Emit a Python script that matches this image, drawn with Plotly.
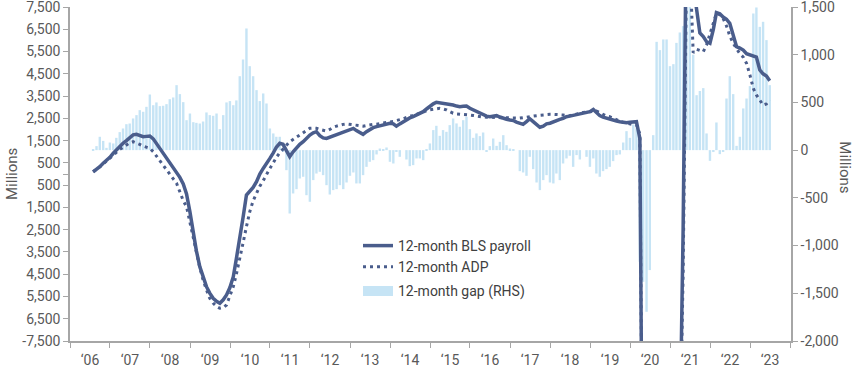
import pandas as pd
import plotly.graph_objects as go

# ---------------- data (monthly, Jul 2006 - Jun 2023) ----------------
start_month = "2006-07"

bls_2006 = [100, 200, 330, 480, 600, 750]
bls_2007 = [930, 1080, 1230, 1378, 1500, 1650, 1760, 1780, 1720, 1676, 1690, 1706]
bls_2008 = [1580, 1378, 1150, 950, 705, 500, 300, 103, -150, -450, -900, -1700]
bls_2009 = [-2663, -3450, -4162, -4650, -5060, -5350, -5582, -5720, -5806, -5650, -5433, -5100]
bls_2010 = [-4611, -3800, -2964, -1950, -943, -800, -600, -345, 0, 250, 450, 700]
bls_2011 = [950, 1200, 1378, 1333, 1050, 777, 1000, 1200, 1330, 1450, 1600, 1750]
bls_2012 = [1850, 1900, 1720, 1620, 1600, 1660, 1720, 1780, 1827, 1870, 1940, 2007]
bls_2013 = [2050, 1950, 1850, 1780, 1900, 2000, 2080, 2126, 2170, 2220, 2260, 2277]
bls_2014 = [2250, 2150, 2250, 2350, 2456, 2520, 2580, 2650, 2720, 2800, 2920, 3050]
bls_2015 = [3150, 3220, 3200, 3180, 3160, 3143, 3100, 3050, 3023, 3040, 3053, 2950]
bls_2016 = [2880, 2800, 2720, 2650, 2600, 2575, 2600, 2620, 2560, 2500, 2460, 2425]
bls_2017 = [2400, 2330, 2260, 2230, 2350, 2480, 2350, 2200, 2100, 2150, 2250, 2280]
bls_2018 = [2350, 2400, 2450, 2500, 2575, 2600, 2630, 2680, 2700, 2725, 2750, 2800]
bls_2019 = [2900, 2750, 2620, 2550, 2500, 2450, 2425, 2380, 2350, 2320, 2300, 2320]
bls_2020 = [2350, 2350, 1600, -19500, -15000, -12500, -11500, -10500, -10000, -9500, -9300, -9500]
bls_2021 = [-9800, -9500, -12000, -2500, 12000, 10500, 8500, 7400, 6330, 6170, 5940, 5870]
bls_2022 = [6500, 7250, 7200, 7050, 6950, 6767, 6170, 5717, 5650, 5568, 5400, 5344]
bls_2023 = [5300, 5250, 4670, 4500, 4400, 4190]

adp_2006 = [100, 200, 320, 450, 570, 700]
adp_2007 = [850, 970, 1100, 1200, 1300, 1400, 1450, 1400, 1330, 1250, 1200, 1154]
adp_2008 = [1000, 777, 600, 400, 180, 0, -200, -418, -800, -1200, -1468, -2200]
adp_2009 = [-3000, -3500, -4200, -4760, -5200, -5582, -5800, -5950, -6030, -6000, -5882, -5500]
adp_2010 = [-5060, -4500, -3862, -3100, -2366, -1700, -1200, -850, -550, -300, 0, 250]
adp_2011 = [500, 750, 950, 1100, 1300, 1450, 1550, 1650, 1750, 1827, 1950, 2052]
adp_2012 = [2060, 2050, 2000, 1950, 1931, 2000, 2097, 2150, 2200, 2230, 2250, 2230]
adp_2013 = [2200, 2180, 2160, 2150, 2180, 2220, 2230, 2240, 2260, 2277, 2300, 2330]
adp_2014 = [2360, 2400, 2425, 2480, 2540, 2600, 2620, 2680, 2740, 2800, 2843, 2880]
adp_2015 = [2900, 2950, 2950, 2920, 2880, 2800, 2730, 2700, 2694, 2680, 2660, 2649]
adp_2016 = [2630, 2600, 2575, 2560, 2550, 2545, 2540, 2530, 2520, 2510, 2500, 2500]
adp_2017 = [2500, 2500, 2510, 2530, 2560, 2590, 2610, 2620, 2640, 2660, 2670, 2680]
adp_2018 = [2680, 2680, 2670, 2650, 2630, 2620, 2650, 2700, 2730, 2760, 2780, 2800]
adp_2019 = [2820, 2830, 2755, 2680, 2600, 2575, 2500, 2430, 2370, 2320, 2277, 2250]
adp_2020 = [2220, 2200, 1800, -19000, -16000, -13500, -12000, -11000, -10500, -10000, -9800, -9800]
adp_2021 = [-9800, -9800, -12500, -4500, 9000, 9500, 5450, 5600, 5550, 5494, 5800, 6300]
adp_2022 = [6700, 7215, 7150, 6990, 6650, 6200, 5868, 5600, 5400, 5250, 4970, 4445]
adp_2023 = [3848, 3550, 3300, 3098, 3150, 3323]

gap_2006 = [7, 42, 140, 97, 24, 80]
gap_2007 = [70, 129, 189, 227, 272, 279, 332, 367, 419, 402, 454, 583]
gap_2008 = [471, 500, 461, 465, 482, 534, 552, 681, 587, 503, 314, 384]
gap_2009 = [293, 286, 279, 300, 395, 367, 360, 384, 220, 367, 500, 514]
gap_2010 = [471, 521, 775, 950, 1275, 880, 775, 629, 514, 594, 489, 227]
gap_2011 = [175, 140, 140, -10, -210, -664, -454, -409, -297, -279, -472, -541]
gap_2012 = [-314, -245, -227, -262, -367, -465, -419, -409, -367, -409, -339, -269]
gap_2013 = [-234, -349, -349, -262, -175, -122, -105, -45, 17, 10, 28, -122]
gap_2014 = [-140, -17, -70, 0, -98, -168, -157, -87, -87, -105, 10, 70]
gap_2015 = [210, 255, 150, 210, 192, 262, 332, 280, 245, 314, 349, 220]
gap_2016 = [129, 175, 147, 185, -17, 42, 122, 45, 87, 157, 52, 17]
gap_2017 = [3, 0, -220, -234, -269, -70, -199, -339, -419, -314, -262, -339]
gap_2018 = [-349, -245, -314, -140, -87, -59, -175, -52, -98, 0, -70, -175]
gap_2019 = [-87, -245, -279, -220, -199, -175, -115, -52, -45, 80, 199, 129]
gap_2020 = [269, 230, -1170, -1380, -1694, -1257, 157, 1135, 1048, 1160, 1160, 880]
gap_2021 = [901, 1124, 1233, 1300, 1650, 1600, 1000, 576, 620, 650, 175, -112]
gap_2022 = [-20, 290, -42, -17, 541, 775, 587, 45, 140, 437, 541, 671]
gap_2023 = [1432, 1495, 1292, 1345, 1153, 681]

left_tickvals = [-7500, -6500, -5500, -4500, -3500, -2500, -1500, -500, 0,
                 500, 1500, 2500, 3500, 4500, 5500, 6500, 7500]
left_ticktext = ["-7,500", "6,500", "5,500", "4,500", "3,500", "2,500", "1,500", "500", "",
                 "500", "1,500", "2,500", "3,500", "4,500", "5,500", "6,500", "7,500"]
right_tickvals = [-2000, -1500, -1000, -500, 0, 500, 1000, 1500]
right_ticktext = ["-2,000", "-1,500", "-1,000", "-500", "0", "500", "1,000", "1,500"]

bls = (bls_2006 + bls_2007 + bls_2008 + bls_2009 + bls_2010 + bls_2011 + bls_2012 + bls_2013
       + bls_2014 + bls_2015 + bls_2016 + bls_2017 + bls_2018 + bls_2019 + bls_2020 + bls_2021
       + bls_2022 + bls_2023)
adp = (adp_2006 + adp_2007 + adp_2008 + adp_2009 + adp_2010 + adp_2011 + adp_2012 + adp_2013
       + adp_2014 + adp_2015 + adp_2016 + adp_2017 + adp_2018 + adp_2019 + adp_2020 + adp_2021
       + adp_2022 + adp_2023)
gap = (gap_2006 + gap_2007 + gap_2008 + gap_2009 + gap_2010 + gap_2011 + gap_2012 + gap_2013
       + gap_2014 + gap_2015 + gap_2016 + gap_2017 + gap_2018 + gap_2019 + gap_2020 + gap_2021
       + gap_2022 + gap_2023)

dates = (pd.period_range(start_month, periods=len(bls), freq="M")
         .to_timestamp(how="end").normalize().strftime("%Y-%m-%d").tolist())

LINE = "#4a5d8c"
BAR = "#c6e4f5"
AXIS = "#a6a6a6"
TICKFONT = dict(family="Roboto, Arial, sans-serif", size=14, color="#595959")

fig = go.Figure()
fig.add_trace(go.Scatter(x=dates, y=bls, mode="lines", name="12-month BLS payroll",
                         line=dict(color=LINE, width=3.5), yaxis="y2",
                         legendgroup="lines"))
fig.add_trace(go.Scatter(x=dates, y=adp, mode="lines", name="12-month ADP",
                         line=dict(color=LINE, width=3, dash="3px,4px"), yaxis="y2",
                         legendgroup="lines"))
fig.add_trace(go.Bar(x=dates, y=gap, name="12-month gap (RHS)", marker_color=BAR,
                     marker_line_width=0, width=22 * 86400000, yaxis="y",
                     showlegend=False))
# legend proxy for the bar series (wide swatch like the original)
fig.add_trace(go.Scatter(x=[None], y=[None], mode="lines", name="12-month gap (RHS)",
                         line=dict(color=BAR, width=12), yaxis="y", legendgroup="bars"))

fig.update_layout(
    width=855, height=369, autosize=False,
    margin=dict(l=70, r=64, t=7, b=28),
    paper_bgcolor="white", plot_bgcolor="white",
    showlegend=True,
    legend=dict(x=(358 - 70) / 721, y=(341 - 230) / 334, xanchor="left", yanchor="top",
                bgcolor="rgba(0,0,0,0)", tracegroupgap=3,
                font=dict(family="Roboto, Arial, sans-serif", size=14, color="#404040")),
    xaxis=dict(type="date", range=["2006-01-01", "2024-01-10"], showgrid=False,
               showline=True, linecolor=AXIS, linewidth=1.5, ticks="outside", ticklen=5,
               tickcolor=AXIS, tick0="2006-01-01", dtick="M12", tickformat="\u2018%y",
               ticklabelmode="period", tickfont=TICKFONT, zeroline=False,
               automargin=False),
    yaxis=dict(range=[-2000, 1500], side="right", showgrid=False, zeroline=False,
               showline=True, linecolor=AXIS, linewidth=1.5, ticks="outside", ticklen=5,
               tickcolor=AXIS, tickvals=right_tickvals, ticktext=right_ticktext,
               tickfont=TICKFONT, automargin=False, ticklabeloverflow="allow"),
    yaxis2=dict(range=[-7500, 7500], side="left", overlaying="y", anchor="x",
                showgrid=False, zeroline=False, showline=True, linecolor=AXIS,
                linewidth=1.5, ticks="outside", ticklen=5, tickcolor=AXIS,
                tickvals=left_tickvals, ticktext=left_ticktext, tickfont=TICKFONT,
                automargin=False, ticklabeloverflow="allow"),
    annotations=[
        dict(text="Millions", xref="paper", yref="paper", x=(12 - 70) / 721, y=0.5,
             textangle=-90, showarrow=False, xanchor="center", yanchor="middle",
             font=dict(family="Roboto, Arial, sans-serif", size=15, color="#595959")),
        dict(text="Millions", xref="paper", yref="paper", x=(845 - 70) / 721, y=0.52,
             textangle=90, showarrow=False, xanchor="center", yanchor="middle",
             font=dict(family="Roboto, Arial, sans-serif", size=15, color="#595959")),
    ],
)

fig.write_html("out.html")
